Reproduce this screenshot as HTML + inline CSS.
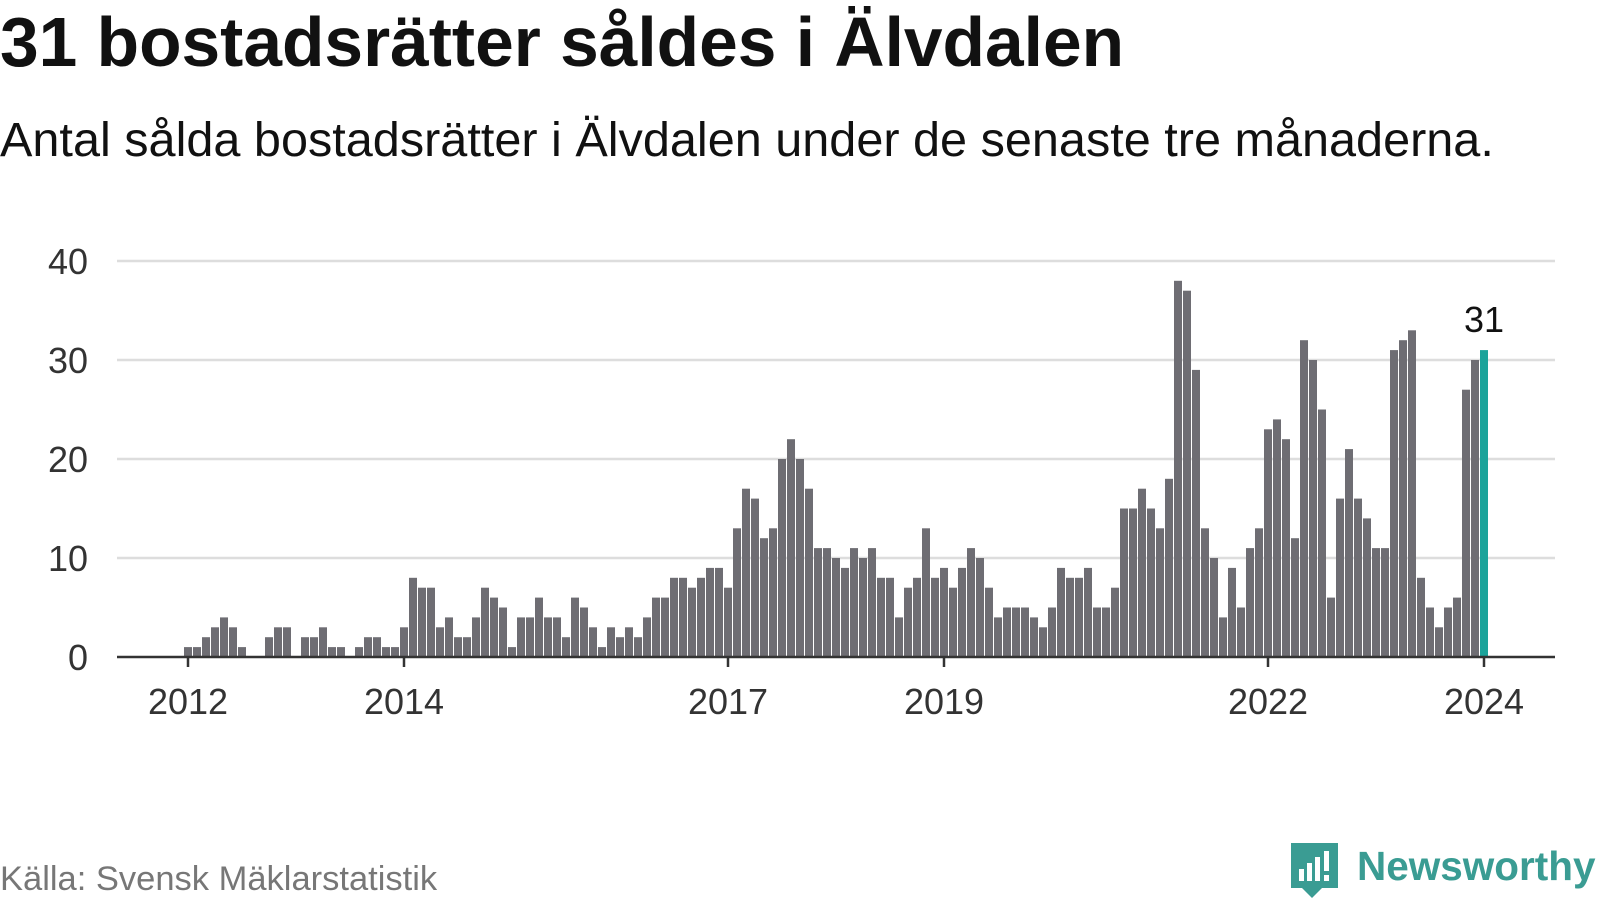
<!DOCTYPE html>
<html><head><meta charset="utf-8"><style>
body{margin:0;background:#fff;width:1600px;height:900px;overflow:hidden;font-family:"Liberation Sans",sans-serif}
svg text{font-family:"Liberation Sans",sans-serif}
</style></head><body>
<svg id="chart" width="1600" height="900" xmlns="http://www.w3.org/2000/svg">
<text x="0" y="66" font-size="69.5" font-weight="bold" fill="#111">31 bostadsrätter såldes i Älvdalen</text>
<text x="0" y="156" font-size="48.6" fill="#111">Antal sålda bostadsrätter i Älvdalen under de senaste tre månaderna.</text>
<g id="grid"></g><g id="bars"></g><g id="xaxis"></g>
<text x="0" y="890" font-size="34.5" fill="#777">Källa: Svensk Mäklarstatistik</text>
<g>
<path d="M1291 843 h47 v45 h-16 l-10 10 l-10 -10 h-11 z" fill="#3a9c93"/>
<rect x="1299" y="869" width="5" height="12" fill="#fff"/><rect x="1307" y="863" width="5" height="18" fill="#fff"/><rect x="1315" y="857" width="5" height="24" fill="#fff"/><rect x="1324" y="851" width="5" height="20" fill="#fff"/><rect x="1324" y="875" width="5" height="6" fill="#fff"/>
<text x="1357" y="880" font-size="40.5" font-weight="bold" fill="#3a9c93">Newsworthy</text>
</g>
</svg>
<script>
const values=[1,1,2,3,4,3,1,0,0,2,3,3,0,2,2,3,1,1,0,1,2,2,1,1,3,8,7,7,3,4,2,2,4,7,6,5,1,4,4,6,4,4,2,6,5,3,1,3,2,3,2,4,6,6,8,8,7,8,9,9,7,13,17,16,12,13,20,22,20,17,11,11,10,9,11,10,11,8,8,4,7,8,13,8,9,7,9,11,10,
7,4,5,5,5,4,3,5,9,8,8,9,5,5,7,15,15,17,15,13,18,38,37,29,13,10,4,9,5,11,13,23,24,22,12,32,30,25,6,16,21,16,14,11,11,31,32,33,8,5,3,5,6,27,30,31];
const startYear=2012;
const xTickYears=[2012,2014,2017,2019,2022,2024];
const yTicks=[0,10,20,30,40];
const NS="http://www.w3.org/2000/svg";
const X0=188,STEP=9.0,Y0=657,YK=9.9,AXL=117,AXR=1555;
function x(i){return X0+i*STEP;}
function y(v){return Y0-v*YK;}
function mk(t,a,p){const e=document.createElementNS(NS,t);for(const k in a)e.setAttribute(k,a[k]);p.appendChild(e);return e;}
const grid=document.getElementById('grid'),bars=document.getElementById('bars'),xa=document.getElementById('xaxis');
yTicks.forEach(v=>{
 if(v>0){const l=mk('line',{x1:AXL,x2:AXR,y1:y(v),y2:y(v),stroke:'#ddd','stroke-width':2.5},grid);
 
 }
 const t=mk('text',{x:88,y:y(v)+13,'font-size':36,fill:'#333','text-anchor':'end'},grid);t.textContent=v;
 
 
});
values.forEach((v,i)=>{
 const last=i===values.length-1;
 const r=mk('rect',{x:x(i)-4,y:y(v),width:8,height:Math.max(0,Y0-y(v)),fill:last?'#1ba39a':'#6e6d73'},bars);
 
 
 if(last){const t=mk('text',{x:x(i),y:y(v)-18,'font-size':36,fill:'#111','text-anchor':'middle'},bars);t.textContent=v;
 
 }
});
const ax=mk('line',{x1:AXL,x2:AXR,y1:Y0,y2:Y0,stroke:'#333','stroke-width':2.5},xa);


xTickYears.forEach(yr=>{
 const i=(yr-startYear)*12;
 const tk=mk('line',{x1:x(i),x2:x(i),y1:Y0,y2:Y0+10,stroke:'#333','stroke-width':2.5},xa);
 
 
 const t=mk('text',{x:x(i),y:714,'font-size':36,fill:'#333','text-anchor':'middle'},xa);t.textContent=yr;
 
 
});
</script>
</body></html>
